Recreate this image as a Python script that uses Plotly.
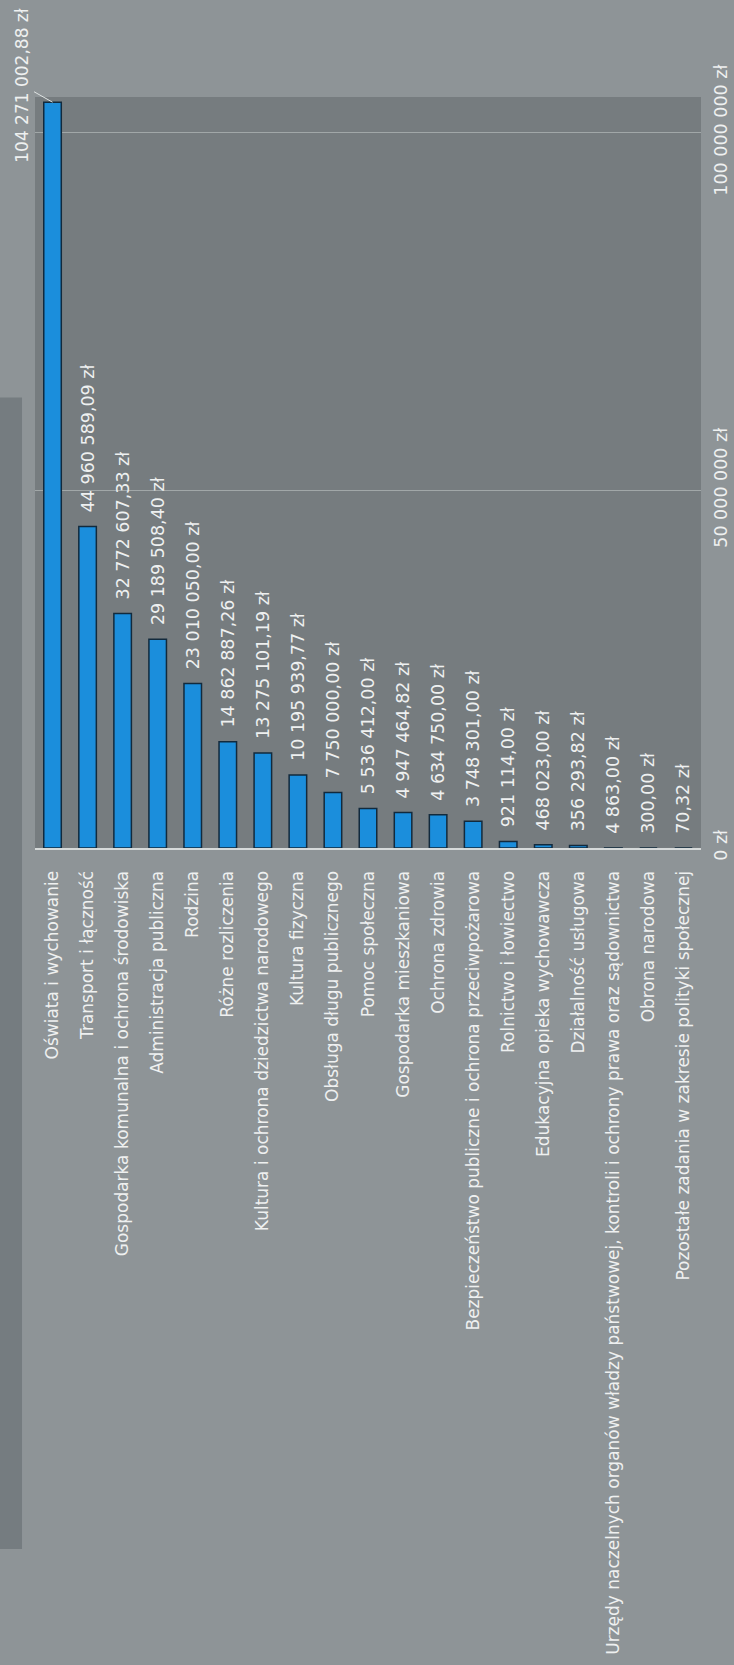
import plotly.graph_objects as go

categories = [
    "Oświata i wychowanie",
    "Transport i łączność",
    "Gospodarka komunalna i ochrona środowiska",
    "Administracja publiczna",
    "Rodzina",
    "Różne rozliczenia",
    "Kultura i ochrona dziedzictwa narodowego",
    "Kultura fizyczna",
    "Obsługa długu publicznego",
    "Pomoc społeczna",
    "Gospodarka mieszkaniowa",
    "Ochrona zdrowia",
    "Bezpieczeństwo publiczne i ochrona przeciwpożarowa",
    "Rolnictwo i łowiectwo",
    "Edukacyjna opieka wychowawcza",
    "Działalność usługowa",
    "Urzędy naczelnych organów władzy państwowej, kontroli i ochrony prawa oraz sądownictwa",
    "Obrona narodowa",
    "Pozostałe zadania w zakresie polityki społecznej",
]
values = [
    104271002.88, 44960589.09, 32772607.33, 29189508.40, 23010050.00,
    14862887.26, 13275101.19, 10195939.77, 7750000.00, 5536412.00,
    4947464.82, 4634750.00, 3748301.00, 921114.00, 468023.00,
    356293.82, 4863.00, 300.00, 70.32,
]
tick_vals = [0, 50000000, 100000000]
tick_text = ["0 zł", "50 000 000 zł", "100 000 000 zł"]


def pln(v):
    s = f"{v:,.2f}".replace(",", " ").replace(".", ",")
    return s + " zł"


FONT = "DejaVu Sans"
TXT = "#eef0f0"
labels = ["\u00a0\u00a0" + pln(v) for v in values]
positions = ["none"] + ["outside"] * (len(values) - 1)

fig = go.Figure()
fig.add_trace(
    go.Bar(
        x=categories,
        y=values,
        text=labels,
        textposition=positions,
        textangle=-90,
        constraintext="none",
        textfont={"family": FONT, "size": 17.5, "color": TXT},
        marker={"color": "#1b8edc", "line": {"color": "#122a3d", "width": 1.5}},
        width=0.5,
        cliponaxis=False,
    )
)

fig.add_annotation(
    x=categories[0], y=values[0], text=pln(values[0]),
    textangle=-90, showarrow=True, arrowhead=0, arrowwidth=1, arrowcolor="#dfe3e3",
    ax=-30, ay=-17, font={"family": FONT, "size": 17, "color": TXT},
)

# ciemniejszy pasek po lewej stronie zdjęcia
fig.add_shape(
    type="rect", xref="paper", yref="paper", x0=-0.06, x1=-0.0195, y0=-0.9333, y1=0.6,
    fillcolor="#757c80", line_width=0, layer="below",
)

fig.update_layout(
    width=734,
    height=1665,
    margin={"l": 35, "r": 33, "t": 97, "b": 817},
    paper_bgcolor="#8e9497",
    plot_bgcolor="#767c7f",
    showlegend=False,
    font={"family": FONT, "size": 17, "color": TXT},
    xaxis={
        "range": [-0.5, 18.5],
        "automargin": False,
        "tickangle": -90,
        "ticks": "outside",
        "ticklen": 14,
        "tickcolor": "rgba(0,0,0,0)",
        "showline": True,
        "linecolor": "#d6dada",
        "linewidth": 2,
        "showgrid": False,
        "tickfont": {"family": FONT, "size": 17, "color": TXT},
    },
    yaxis={
        "side": "right",
        "range": [0, 105e6],
        "automargin": False,
        "tickvals": tick_vals,
        "ticktext": tick_text,
        "tickangle": -90,
        "ticks": "outside",
        "ticklen": 4,
        "tickcolor": "rgba(0,0,0,0)",
        "showgrid": True,
        "gridcolor": "rgba(215,220,220,0.45)",
        "gridwidth": 1,
        "zeroline": False,
        "tickfont": {"family": FONT, "size": 17.5, "color": TXT},
    },
)

fig.write_html(
    "out.html",
    config={"displayModeBar": False},
    post_script="document.body.style.margin='0';",
)
